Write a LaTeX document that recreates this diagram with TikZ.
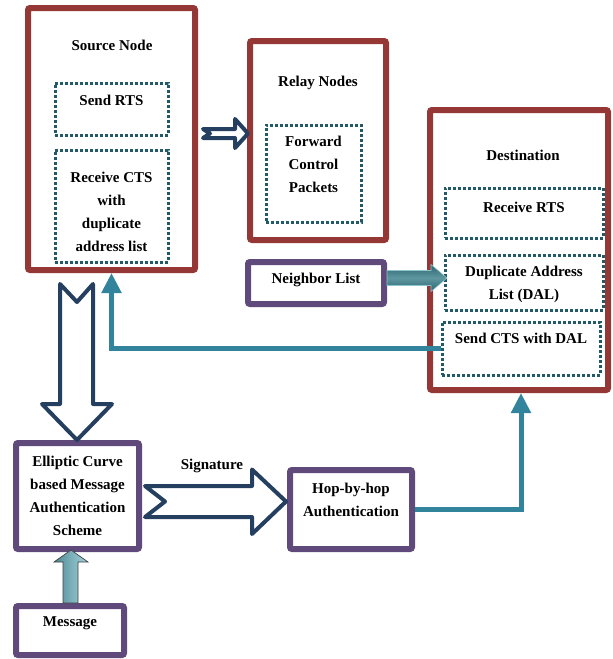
\documentclass[tikz,border=0pt]{standalone}
\usepackage{fontspec}
\setmainfont{Liberation Serif}
\usetikzlibrary{arrows.meta,calc}
\definecolor{cred}{HTML}{953735}
\definecolor{cpur}{HTML}{604A7B}
\definecolor{cnavy}{HTML}{243F60}
\definecolor{cteal}{HTML}{31849B}
\definecolor{cdot}{HTML}{215967}
\definecolor{cdark}{HTML}{2A6570}
\definecolor{cmid}{HTML}{5F979F}
\definecolor{clight}{HTML}{8EC4CC}
\definecolor{mleft}{HTML}{4A8793}
\definecolor{mmid}{HTML}{7BB0BA}
\definecolor{mright}{HTML}{A5D0D7}
\begin{document}
\begin{tikzpicture}[x=1pt,y=-1pt,
 redbox/.style={draw=cred,line width=6pt,rounded corners=2pt,fill=white,inner sep=0pt},
 purbox/.style={draw=cpur,line width=6pt,rounded corners=2pt,fill=white,inner sep=0pt},
 dotbox/.style={draw=cdot,line width=3pt,dash pattern=on 3pt off 2pt,inner sep=0pt},
 txt/.style={font=\bfseries\fontsize{15}{23}\selectfont,align=center,inner sep=0pt,text=black},
 blockarrow/.style={draw=cnavy,line width=4pt,fill=white,line join=round},
 tealline/.style={draw=cteal,line width=5pt,-{Triangle[width=19pt,length=20pt]}},
 gradarrow/.style={draw=clight,line width=0.6pt},
 msgarrow/.style={draw=black!75,line width=0.7pt}
]
\useasboundingbox (0,0) rectangle (613,659);

% Source node
\node[redbox,minimum width=167pt,minimum height=262pt] (src) at (111.5,139) {};
\node[txt] (srcT) at (112,45) {Source Node};
\node[dotbox,minimum width=113pt,minimum height=52pt] (sendrts) at (111.5,109) {};
\node[txt] (sendrtsT) at (111.5,100) {Send RTS};
\node[dotbox,minimum width=113pt,minimum height=112pt] (rcvcts) at (111.5,206) {};
\node[txt] (rcvctsT) at (111.5,212) {Receive CTS\\with\\duplicate\\address list};

% Relay nodes
\node[redbox,minimum width=136pt,minimum height=199pt] (relay) at (318,140.5) {};
\node[txt] (relayT) at (318,83) {Relay Nodes};
\node[dotbox,minimum width=95pt,minimum height=97pt] (fwd) at (313.5,173.5) {};
\node[txt] (fwdT) at (313.5,164.5) {Forward\\Control\\Packets};

% Neighbor list
\node[purbox,minimum width=136pt,minimum height=42pt] (nbr) at (316,283) {};
\node[txt] (nbrT) at (316,280) {Neighbor List};

% Destination
\node[redbox,minimum width=178pt,minimum height=280pt] (dest) at (519,250) {};
\node[txt] (destT) at (523,155) {Destination};
\node[dotbox,minimum width=158pt,minimum height=50pt] (rcvrts) at (524,213) {};
\node[txt] (rcvrtsT) at (524,207) {Receive RTS};
\node[dotbox,minimum width=158pt,minimum height=55pt] (dal) at (524,282.5) {};
\node[txt] (dalT) at (524,284) {Duplicate Address\\List (DAL)};
\node[dotbox,minimum width=158pt,minimum height=53pt] (sendcts) at (521,348.5) {};
\node[txt] (sendctsT) at (521,338) {Send CTS with DAL};

% ECC scheme
\node[purbox,minimum width=123pt,minimum height=106pt] (ecc) at (77.5,496) {};
\node[txt] (eccT) at (77.5,495.5) {Elliptic Curve\\based Message\\Authentication\\Scheme};

% Hop-by-hop
\node[purbox,minimum width=122pt,minimum height=79pt] (hop) at (351,509.5) {};
\node[txt] (hopT) at (351,500) {Hop-by-hop\\Authentication};

% Message
\node[purbox,minimum width=108pt,minimum height=49pt] (msg) at (70,630.5) {};
\node[txt] (msgT) at (70,623) {Message};

% Block arrows
\draw[blockarrow] (203,129) -- (235,129) -- (235,119) -- (248,133.5) -- (235,148) -- (235,138) -- (203,138) -- (210,133.5) -- cycle;
\draw[blockarrow] (60,284) -- (77,302) -- (93,284) -- (93,404) -- (112,404) -- (77,440) -- (42,404) -- (60,404) -- cycle;
\draw[blockarrow] (145,486) -- (252,486) -- (252,469.5) -- (286,501.5) -- (252,534) -- (252,517) -- (145,517) -- (165,501.5) -- cycle;
\node[txt] (sigT) at (212,466) {Signature};

% Gradient arrows
\path[gradarrow,top color=cdark,bottom color=cdark,middle color=cmid]
 (nbr.east |- 0,270.5) -- (431,270.5) -- (431,264.5) -- (447,278) -- (431,291.5) -- (431,285.5) -- (nbr.east |- 0,285.5) -- cycle;
\path[msgarrow,left color=mleft,right color=mright,middle color=mmid]
 (63,0 |- msg.north) -- (63,562) -- (54,562) -- (71,550) -- (88,562) -- (78,562) -- (78,0 |- msg.north) -- cycle;

% Teal connectors
\draw[tealline] (sendcts.west) -| (src.south);
\draw[tealline] (hop.east) -| ([xshift=2pt]dest.south);
\end{tikzpicture}
\end{document}
